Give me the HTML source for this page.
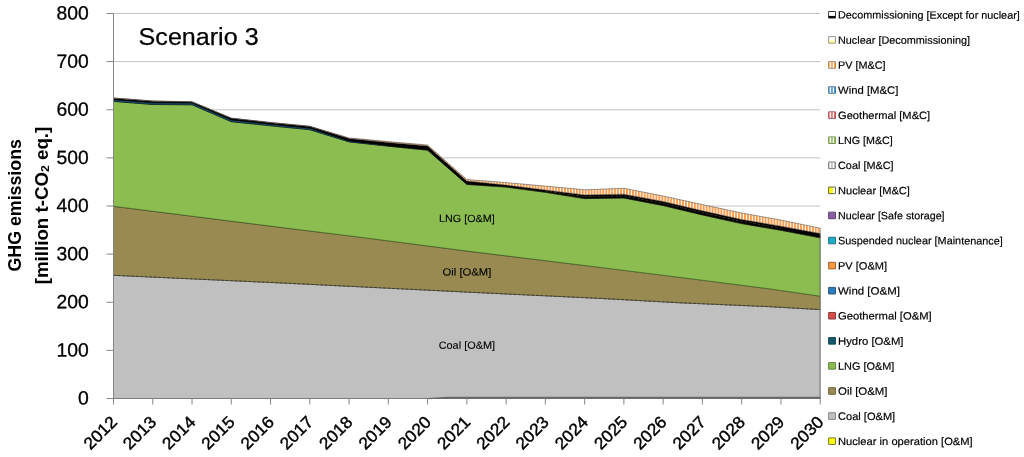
<!DOCTYPE html>
<html lang="en"><head><meta charset="utf-8"><title>Scenario 3 - GHG emissions</title>
<style>html,body{margin:0;padding:0;background:#fff;}body{width:1024px;height:457px;overflow:hidden;}svg{display:block;will-change:transform;}text{font-family:"Liberation Sans",sans-serif;fill:#000;}.ax{font-size:19.2px;stroke:#000;stroke-width:0.3px;}.xl{font-size:16.8px;stroke:#000;stroke-width:0.4px;}.lg{font-size:10.6px;fill:#000;stroke:#000;stroke-width:0.18px;}.dl{font-size:10.4px;fill:#000;stroke:#000;stroke-width:0.12px;}.yt{font-size:17.6px;font-weight:bold;}.ttl{font-size:24.6px;stroke:#000;stroke-width:0.25px;}</style></head><body>
<svg width="1024" height="457" viewBox="0 0 1024 457">
<defs>
<pattern id="pvs" patternUnits="userSpaceOnUse" width="2.95" height="8" x="0.6"><rect width="2.95" height="8" fill="#fff"/><rect width="1.85" height="8" fill="#F99A48"/></pattern>
<linearGradient id="gd" x1="0" y1="0" x2="0" y2="1"><stop offset="0" stop-color="#fff"/><stop offset="0.6" stop-color="#fff"/><stop offset="0.7" stop-color="#000"/><stop offset="1" stop-color="#000"/></linearGradient>
<linearGradient id="gn" x1="0" y1="0" x2="0" y2="1"><stop offset="0" stop-color="#fff"/><stop offset="0.5" stop-color="#fffff0"/><stop offset="0.75" stop-color="#ffff9a"/><stop offset="1" stop-color="#ffff70"/></linearGradient>
<linearGradient id="gh" x1="0" y1="0" x2="1" y2="0"><stop offset="0" stop-color="#ffff00"/><stop offset="0.55" stop-color="#ffff00"/><stop offset="0.62" stop-color="#ffffff"/><stop offset="1" stop-color="#ffffff"/></linearGradient>
</defs>
<rect width="1024" height="457" fill="#fff"/>
<line x1="113.5" y1="350.38" x2="820.2" y2="350.38" stroke="#C3C3C3" stroke-width="1"/>
<line x1="113.5" y1="302.25" x2="820.2" y2="302.25" stroke="#C3C3C3" stroke-width="1"/>
<line x1="113.5" y1="254.12" x2="820.2" y2="254.12" stroke="#C3C3C3" stroke-width="1"/>
<line x1="113.5" y1="206.00" x2="820.2" y2="206.00" stroke="#C3C3C3" stroke-width="1"/>
<line x1="113.5" y1="157.88" x2="820.2" y2="157.88" stroke="#C3C3C3" stroke-width="1"/>
<line x1="113.5" y1="109.75" x2="820.2" y2="109.75" stroke="#C3C3C3" stroke-width="1"/>
<line x1="113.5" y1="61.62" x2="820.2" y2="61.62" stroke="#C3C3C3" stroke-width="1"/>
<line x1="113.5" y1="13.50" x2="820.2" y2="13.50" stroke="#C3C3C3" stroke-width="1"/>
<polygon points="113.50,275.30 280.00,282.90 360.00,286.80 465.00,292.00 600.00,298.40 680.00,302.80 770.00,306.70 820.20,309.60 820.20,398.50 113.50,398.50" fill="#C0C0C0" stroke="#4a4a4a" stroke-width="0.5"/>
<polygon points="113.50,206.30 280.00,227.30 360.00,237.20 465.00,250.80 600.00,267.40 680.00,277.40 770.00,288.90 820.20,296.20 820.20,309.60 770.00,306.70 680.00,302.80 600.00,298.40 465.00,292.00 360.00,286.80 280.00,282.90 113.50,275.30" fill="#988A51" stroke="#3c3a22" stroke-width="0.6"/>
<polygon points="113.50,101.40 152.76,104.50 192.02,104.80 231.28,121.70 270.54,125.80 309.81,129.70 349.07,141.90 388.33,146.20 427.59,150.20 466.85,184.40 506.11,187.10 545.37,192.30 584.63,198.60 623.89,198.00 663.16,205.60 702.42,214.90 741.68,223.60 780.94,230.30 820.20,237.80 820.20,296.20 770.00,288.90 680.00,277.40 600.00,267.40 465.00,250.80 360.00,237.20 280.00,227.30 113.50,206.30" fill="#8BBD50" stroke="#2f4a14" stroke-width="0.6"/>
<polyline points="113.50,275.30 280.00,282.90 360.00,286.80 465.00,292.00 600.00,298.40 680.00,302.80 770.00,306.70 820.20,309.60" fill="none" stroke="#222" stroke-width="0.6" stroke-dasharray="2.5 2"/>
<polygon points="113.50,98.20 152.76,101.20 192.02,102.00 231.28,118.35 270.54,122.70 309.81,126.50 349.07,138.60 388.33,142.40 427.59,145.90 466.85,181.00 506.11,185.10 545.37,190.00 584.63,194.90 623.89,194.20 663.16,201.50 702.42,210.80 741.68,219.50 780.94,226.20 820.20,233.50 820.20,237.80 780.94,230.30 741.68,223.60 702.42,214.90 663.16,205.60 623.89,198.00 584.63,198.60 545.37,192.30 506.11,187.10 466.85,184.40 427.59,150.20 388.33,146.20 349.07,141.90 309.81,129.70 270.54,125.80 231.28,121.70 192.02,104.80 152.76,104.50 113.50,101.40" fill="#000" stroke="#000" stroke-width="0.5"/>
<polygon points="113.50,99.95 152.76,103.05 192.02,103.35 231.28,120.35 270.54,124.40 309.81,128.50 349.07,141.30 388.33,145.95 388.33,146.20 349.07,141.90 309.81,129.70 270.54,125.80 231.28,121.70 192.02,104.80 152.76,104.50 113.50,101.40" fill="#14475A"/>
<polygon points="113.50,97.90 152.76,100.90 192.02,101.70 231.28,118.05 270.54,122.40 309.81,126.20 349.07,137.90 388.33,141.60 427.59,145.00 466.85,179.50 506.11,182.60 545.37,186.10 584.63,189.80 623.89,188.30 663.16,196.00 702.42,204.60 741.68,213.00 780.94,220.10 820.20,228.20 820.20,233.50 780.94,226.20 741.68,219.50 702.42,210.80 663.16,201.50 623.89,194.20 584.63,194.90 545.37,190.00 506.11,185.10 466.85,181.00 427.59,145.90 388.33,142.40 349.07,138.60 309.81,126.50 270.54,122.70 231.28,118.35 192.02,102.00 152.76,101.20 113.50,98.20" fill="url(#pvs)" stroke="#3a3a3a" stroke-width="0.5"/>
<polyline points="545.37,191.04 584.63,196.56 623.89,195.91 663.16,203.34 702.42,212.65 741.68,221.35 780.94,228.05" fill="none" stroke="#8f8a3a" stroke-width="0.55" stroke-opacity="0.7" stroke-dasharray="2.6 1.8"/>
<line x1="820.1" y1="233.5" x2="820.1" y2="398.5" stroke="#7d7d7d" stroke-width="0.7"/>
<line x1="113.5" y1="13.5" x2="113.5" y2="404.5" stroke="#868686" stroke-width="1"/>
<line x1="106.5" y1="398.5" x2="113.5" y2="398.5" stroke="#868686" stroke-width="1"/>
<line x1="113.5" y1="398.5" x2="820.5" y2="398.5" stroke="#7c7c7c" stroke-width="1.1"/>
<polygon points="427.6,398.1 447.5,396.8 820.4,396.8 820.4,399.1 427.6,399.1" fill="#6a6a6a"/>
<line x1="106.5" y1="350.38" x2="113.5" y2="350.38" stroke="#868686" stroke-width="1"/>
<line x1="106.5" y1="302.25" x2="113.5" y2="302.25" stroke="#868686" stroke-width="1"/>
<line x1="106.5" y1="254.12" x2="113.5" y2="254.12" stroke="#868686" stroke-width="1"/>
<line x1="106.5" y1="206.00" x2="113.5" y2="206.00" stroke="#868686" stroke-width="1"/>
<line x1="106.5" y1="157.88" x2="113.5" y2="157.88" stroke="#868686" stroke-width="1"/>
<line x1="106.5" y1="109.75" x2="113.5" y2="109.75" stroke="#868686" stroke-width="1"/>
<line x1="106.5" y1="61.62" x2="113.5" y2="61.62" stroke="#868686" stroke-width="1"/>
<line x1="106.5" y1="13.50" x2="113.5" y2="13.50" stroke="#868686" stroke-width="1"/>
<line x1="152.76" y1="398.5" x2="152.76" y2="404.5" stroke="#868686" stroke-width="1"/>
<line x1="192.02" y1="398.5" x2="192.02" y2="404.5" stroke="#868686" stroke-width="1"/>
<line x1="231.28" y1="398.5" x2="231.28" y2="404.5" stroke="#868686" stroke-width="1"/>
<line x1="270.54" y1="398.5" x2="270.54" y2="404.5" stroke="#868686" stroke-width="1"/>
<line x1="309.81" y1="398.5" x2="309.81" y2="404.5" stroke="#868686" stroke-width="1"/>
<line x1="349.07" y1="398.5" x2="349.07" y2="404.5" stroke="#868686" stroke-width="1"/>
<line x1="388.33" y1="398.5" x2="388.33" y2="404.5" stroke="#868686" stroke-width="1"/>
<line x1="427.59" y1="398.5" x2="427.59" y2="404.5" stroke="#868686" stroke-width="1"/>
<line x1="466.85" y1="398.5" x2="466.85" y2="404.5" stroke="#868686" stroke-width="1"/>
<line x1="506.11" y1="398.5" x2="506.11" y2="404.5" stroke="#868686" stroke-width="1"/>
<line x1="545.37" y1="398.5" x2="545.37" y2="404.5" stroke="#868686" stroke-width="1"/>
<line x1="584.63" y1="398.5" x2="584.63" y2="404.5" stroke="#868686" stroke-width="1"/>
<line x1="623.89" y1="398.5" x2="623.89" y2="404.5" stroke="#868686" stroke-width="1"/>
<line x1="663.16" y1="398.5" x2="663.16" y2="404.5" stroke="#868686" stroke-width="1"/>
<line x1="702.42" y1="398.5" x2="702.42" y2="404.5" stroke="#868686" stroke-width="1"/>
<line x1="741.68" y1="398.5" x2="741.68" y2="404.5" stroke="#868686" stroke-width="1"/>
<line x1="780.94" y1="398.5" x2="780.94" y2="404.5" stroke="#868686" stroke-width="1"/>
<line x1="820.20" y1="398.5" x2="820.20" y2="404.5" stroke="#868686" stroke-width="1"/>
<text class="ax" x="88.7" y="404.60" transform="rotate(0.03 88.7 404.60)" text-anchor="end" textLength="10.8" lengthAdjust="spacingAndGlyphs">0</text>
<text class="ax" x="88.7" y="356.48" transform="rotate(0.03 88.7 356.48)" text-anchor="end" textLength="32.2" lengthAdjust="spacingAndGlyphs">100</text>
<text class="ax" x="88.7" y="308.35" transform="rotate(0.03 88.7 308.35)" text-anchor="end" textLength="32.2" lengthAdjust="spacingAndGlyphs">200</text>
<text class="ax" x="88.7" y="260.23" transform="rotate(0.03 88.7 260.23)" text-anchor="end" textLength="32.2" lengthAdjust="spacingAndGlyphs">300</text>
<text class="ax" x="88.7" y="212.10" transform="rotate(0.03 88.7 212.10)" text-anchor="end" textLength="32.2" lengthAdjust="spacingAndGlyphs">400</text>
<text class="ax" x="88.7" y="163.97" transform="rotate(0.03 88.7 163.97)" text-anchor="end" textLength="32.2" lengthAdjust="spacingAndGlyphs">500</text>
<text class="ax" x="88.7" y="115.85" transform="rotate(0.03 88.7 115.85)" text-anchor="end" textLength="32.2" lengthAdjust="spacingAndGlyphs">600</text>
<text class="ax" x="88.7" y="67.72" transform="rotate(0.03 88.7 67.72)" text-anchor="end" textLength="32.2" lengthAdjust="spacingAndGlyphs">700</text>
<text class="ax" x="88.7" y="19.60" transform="rotate(0.03 88.7 19.60)" text-anchor="end" textLength="32.2" lengthAdjust="spacingAndGlyphs">800</text>
<text class="xl" transform="translate(100.05,432.55) rotate(-45)" x="0" y="6.0" text-anchor="middle" textLength="38.9" lengthAdjust="spacingAndGlyphs">2012</text>
<text class="xl" transform="translate(139.31,432.55) rotate(-45)" x="0" y="6.0" text-anchor="middle" textLength="38.9" lengthAdjust="spacingAndGlyphs">2013</text>
<text class="xl" transform="translate(178.57,432.55) rotate(-45)" x="0" y="6.0" text-anchor="middle" textLength="38.9" lengthAdjust="spacingAndGlyphs">2014</text>
<text class="xl" transform="translate(217.83,432.55) rotate(-45)" x="0" y="6.0" text-anchor="middle" textLength="38.9" lengthAdjust="spacingAndGlyphs">2015</text>
<text class="xl" transform="translate(257.09,432.55) rotate(-45)" x="0" y="6.0" text-anchor="middle" textLength="38.9" lengthAdjust="spacingAndGlyphs">2016</text>
<text class="xl" transform="translate(296.36,432.55) rotate(-45)" x="0" y="6.0" text-anchor="middle" textLength="38.9" lengthAdjust="spacingAndGlyphs">2017</text>
<text class="xl" transform="translate(335.62,432.55) rotate(-45)" x="0" y="6.0" text-anchor="middle" textLength="38.9" lengthAdjust="spacingAndGlyphs">2018</text>
<text class="xl" transform="translate(374.88,432.55) rotate(-45)" x="0" y="6.0" text-anchor="middle" textLength="38.9" lengthAdjust="spacingAndGlyphs">2019</text>
<text class="xl" transform="translate(414.14,432.55) rotate(-45)" x="0" y="6.0" text-anchor="middle" textLength="38.9" lengthAdjust="spacingAndGlyphs">2020</text>
<text class="xl" transform="translate(453.40,432.55) rotate(-45)" x="0" y="6.0" text-anchor="middle" textLength="38.9" lengthAdjust="spacingAndGlyphs">2021</text>
<text class="xl" transform="translate(492.66,432.55) rotate(-45)" x="0" y="6.0" text-anchor="middle" textLength="38.9" lengthAdjust="spacingAndGlyphs">2022</text>
<text class="xl" transform="translate(531.92,432.55) rotate(-45)" x="0" y="6.0" text-anchor="middle" textLength="38.9" lengthAdjust="spacingAndGlyphs">2023</text>
<text class="xl" transform="translate(571.18,432.55) rotate(-45)" x="0" y="6.0" text-anchor="middle" textLength="38.9" lengthAdjust="spacingAndGlyphs">2024</text>
<text class="xl" transform="translate(610.44,432.55) rotate(-45)" x="0" y="6.0" text-anchor="middle" textLength="38.9" lengthAdjust="spacingAndGlyphs">2025</text>
<text class="xl" transform="translate(649.71,432.55) rotate(-45)" x="0" y="6.0" text-anchor="middle" textLength="38.9" lengthAdjust="spacingAndGlyphs">2026</text>
<text class="xl" transform="translate(688.97,432.55) rotate(-45)" x="0" y="6.0" text-anchor="middle" textLength="38.9" lengthAdjust="spacingAndGlyphs">2027</text>
<text class="xl" transform="translate(728.23,432.55) rotate(-45)" x="0" y="6.0" text-anchor="middle" textLength="38.9" lengthAdjust="spacingAndGlyphs">2028</text>
<text class="xl" transform="translate(767.49,432.55) rotate(-45)" x="0" y="6.0" text-anchor="middle" textLength="38.9" lengthAdjust="spacingAndGlyphs">2029</text>
<text class="xl" transform="translate(806.75,432.55) rotate(-45)" x="0" y="6.0" text-anchor="middle" textLength="38.9" lengthAdjust="spacingAndGlyphs">2030</text>
<text class="yt" transform="translate(21.2,205.3) rotate(-90)" x="0" y="0" text-anchor="middle" textLength="132.5" lengthAdjust="spacingAndGlyphs">GHG emissions</text>
<text class="yt" transform="translate(47.7,205.5) rotate(-90)" x="0" y="0" text-anchor="middle" textLength="157.6" lengthAdjust="spacingAndGlyphs">[million t-CO<tspan font-size="11.5px" dy="1.5">2</tspan><tspan dy="-1.5"> eq.]</tspan></text>
<text class="ttl" x="138.6" y="45" textLength="120" lengthAdjust="spacingAndGlyphs">Scenario 3</text>
<text class="dl" x="466.9" y="222.0" transform="rotate(0.03 466.9 222.0)" text-anchor="middle" textLength="55.6" lengthAdjust="spacingAndGlyphs">LNG [O&amp;M]</text>
<text class="dl" x="466.9" y="275.4" transform="rotate(0.03 466.9 275.4)" text-anchor="middle" textLength="48.8" lengthAdjust="spacingAndGlyphs">Oil [O&amp;M]</text>
<text class="dl" x="466.9" y="348.7" transform="rotate(0.03 466.9 348.7)" text-anchor="middle" textLength="56.5" lengthAdjust="spacingAndGlyphs">Coal [O&amp;M]</text>
<rect x="828.6" y="11.50" width="6.9" height="6.6" rx="0.15" fill="url(#gd)" stroke="#222" stroke-width="0.9"/>
<text class="lg" x="838.0" y="18.60" transform="rotate(0.03 838 18.60)" textLength="181.8" lengthAdjust="spacingAndGlyphs">Decommissioning [Except for nuclear]</text>
<rect x="828.6" y="36.58" width="6.9" height="6.6" rx="0.15" fill="url(#gn)" stroke="#8a8a8a" stroke-width="0.9"/>
<text class="lg" x="838.0" y="43.68" transform="rotate(0.03 838 43.68)" textLength="132.1" lengthAdjust="spacingAndGlyphs">Nuclear [Decommissioning]</text>
<rect x="828.6" y="61.66" width="6.9" height="6.6" rx="0.15" fill="#fff" stroke="#8f7560" stroke-width="0.9"/>
<rect x="828.80" y="61.96" width="0.75" height="6.0" fill="#F79030"/>
<rect x="831.25" y="61.96" width="1.40" height="6.0" fill="#F79030"/>
<rect x="834.15" y="61.96" width="1.15" height="6.0" fill="#F79030"/>
<text class="lg" x="838.0" y="68.76" transform="rotate(0.03 838 68.76)" textLength="47.6" lengthAdjust="spacingAndGlyphs">PV [M&amp;C]</text>
<rect x="828.6" y="86.74" width="6.9" height="6.6" rx="0.15" fill="#fff" stroke="#4a6480" stroke-width="0.9"/>
<rect x="828.80" y="87.04" width="0.75" height="6.0" fill="#2C86C8"/>
<rect x="831.25" y="87.04" width="1.40" height="6.0" fill="#2C86C8"/>
<rect x="834.15" y="87.04" width="1.15" height="6.0" fill="#2C86C8"/>
<text class="lg" x="838.0" y="93.84" transform="rotate(0.03 838 93.84)" textLength="60.4" lengthAdjust="spacingAndGlyphs">Wind [M&amp;C]</text>
<rect x="828.6" y="111.82" width="6.9" height="6.6" rx="0.15" fill="#fff" stroke="#8a4a4a" stroke-width="0.9"/>
<rect x="828.80" y="112.12" width="0.75" height="6.0" fill="#E0504C"/>
<rect x="831.25" y="112.12" width="1.40" height="6.0" fill="#E0504C"/>
<rect x="834.15" y="112.12" width="1.15" height="6.0" fill="#E0504C"/>
<text class="lg" x="838.0" y="118.92" transform="rotate(0.03 838 118.92)" textLength="92.2" lengthAdjust="spacingAndGlyphs">Geothermal [M&amp;C]</text>
<rect x="828.6" y="136.90" width="6.9" height="6.6" rx="0.15" fill="#fff" stroke="#64803e" stroke-width="0.9"/>
<rect x="828.80" y="137.20" width="0.75" height="6.0" fill="#86B84A"/>
<rect x="831.25" y="137.20" width="1.40" height="6.0" fill="#86B84A"/>
<rect x="834.15" y="137.20" width="1.15" height="6.0" fill="#86B84A"/>
<text class="lg" x="838.0" y="144.00" transform="rotate(0.03 838 144.00)" textLength="54.8" lengthAdjust="spacingAndGlyphs">LNG [M&amp;C]</text>
<rect x="828.6" y="161.98" width="6.9" height="6.6" rx="0.15" fill="#fff" stroke="#666" stroke-width="0.9"/>
<rect x="828.80" y="162.28" width="0.75" height="6.0" fill="#B0B0B0"/>
<rect x="831.25" y="162.28" width="1.40" height="6.0" fill="#B0B0B0"/>
<rect x="834.15" y="162.28" width="1.15" height="6.0" fill="#B0B0B0"/>
<text class="lg" x="838.0" y="169.08" transform="rotate(0.03 838 169.08)" textLength="55.6" lengthAdjust="spacingAndGlyphs">Coal [M&amp;C]</text>
<rect x="828.6" y="187.06" width="6.9" height="6.6" rx="0.15" fill="url(#gh)" stroke="#55553a" stroke-width="0.9"/>
<text class="lg" x="838.0" y="194.16" transform="rotate(0.03 838 194.16)" textLength="71.9" lengthAdjust="spacingAndGlyphs">Nuclear [M&amp;C]</text>
<rect x="828.6" y="212.14" width="6.9" height="6.6" rx="0.15" fill="#8A5DAA" stroke="#4f3a66" stroke-width="0.9"/>
<text class="lg" x="838.0" y="219.24" transform="rotate(0.03 838 219.24)" textLength="106.6" lengthAdjust="spacingAndGlyphs">Nuclear [Safe storage]</text>
<rect x="828.6" y="237.22" width="6.9" height="6.6" rx="0.15" fill="#1CADCB" stroke="#1a6474" stroke-width="0.9"/>
<text class="lg" x="838.0" y="244.32" transform="rotate(0.03 838 244.32)" textLength="164.8" lengthAdjust="spacingAndGlyphs">Suspended nuclear [Maintenance]</text>
<rect x="828.6" y="262.30" width="6.9" height="6.6" rx="0.15" fill="#FB983C" stroke="#8f5a2a" stroke-width="0.9"/>
<text class="lg" x="838.0" y="269.40" transform="rotate(0.03 838 269.40)" textLength="49.1" lengthAdjust="spacingAndGlyphs">PV [O&amp;M]</text>
<rect x="828.6" y="287.38" width="6.9" height="6.6" rx="0.15" fill="#2C7DC2" stroke="#27496e" stroke-width="0.9"/>
<text class="lg" x="838.0" y="294.48" transform="rotate(0.03 838 294.48)" textLength="61.9" lengthAdjust="spacingAndGlyphs">Wind [O&amp;M]</text>
<rect x="828.6" y="312.46" width="6.9" height="6.6" rx="0.15" fill="#DC4A48" stroke="#7a3030" stroke-width="0.9"/>
<text class="lg" x="838.0" y="319.56" transform="rotate(0.03 838 319.56)" textLength="93.7" lengthAdjust="spacingAndGlyphs">Geothermal [O&amp;M]</text>
<rect x="828.6" y="337.54" width="6.9" height="6.6" rx="0.15" fill="#16596B" stroke="#0f3f4c" stroke-width="0.9"/>
<text class="lg" x="838.0" y="344.64" transform="rotate(0.03 838 344.64)" textLength="65.5" lengthAdjust="spacingAndGlyphs">Hydro [O&amp;M]</text>
<rect x="828.6" y="362.62" width="6.9" height="6.6" rx="0.15" fill="#8BBD50" stroke="#5a7d33" stroke-width="0.9"/>
<text class="lg" x="838.0" y="369.72" transform="rotate(0.03 838 369.72)" textLength="56.3" lengthAdjust="spacingAndGlyphs">LNG [O&amp;M]</text>
<rect x="828.6" y="387.70" width="6.9" height="6.6" rx="0.15" fill="#988A51" stroke="#665c34" stroke-width="0.9"/>
<text class="lg" x="838.0" y="394.80" transform="rotate(0.03 838 394.80)" textLength="49.5" lengthAdjust="spacingAndGlyphs">Oil [O&amp;M]</text>
<rect x="828.6" y="412.78" width="6.9" height="6.6" rx="0.15" fill="#C0C0C0" stroke="#7a7a7a" stroke-width="0.9"/>
<text class="lg" x="838.0" y="419.88" transform="rotate(0.03 838 419.88)" textLength="57.2" lengthAdjust="spacingAndGlyphs">Coal [O&amp;M]</text>
<rect x="828.6" y="437.86" width="6.9" height="6.6" rx="0.15" fill="#FFFF00" stroke="#6e6e30" stroke-width="0.9"/>
<text class="lg" x="838.0" y="444.96" transform="rotate(0.03 838 444.96)" textLength="134.7" lengthAdjust="spacingAndGlyphs">Nuclear in operation [O&amp;M]</text>
</svg></body></html>
